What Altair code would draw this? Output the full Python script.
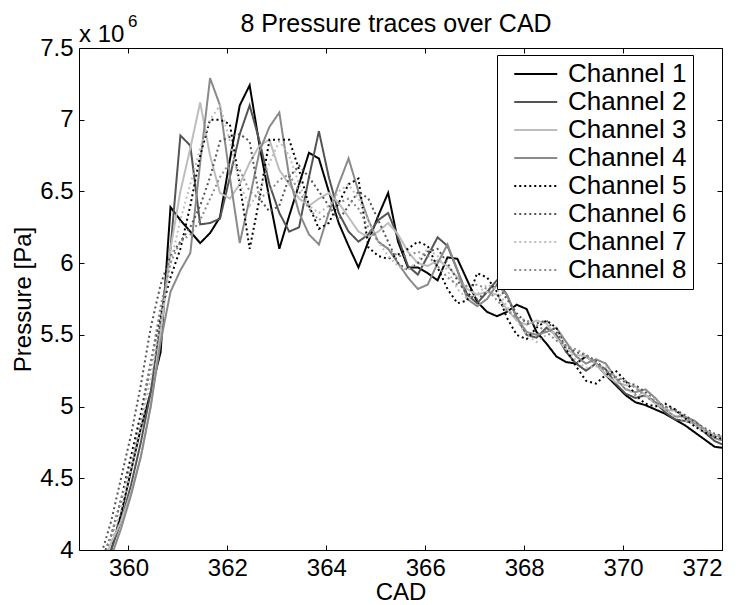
import altair as alt
import pandas as pd

cad = [359.25, 359.45, 359.65, 359.85, 360.05, 360.25, 360.45, 360.65, 360.85, 361.05,
       361.25, 361.45, 361.65, 361.85, 362.05, 362.25, 362.45, 362.65, 362.85, 363.05,
       363.25, 363.45, 363.65, 363.85, 364.05, 364.25, 364.45, 364.65, 364.85, 365.05,
       365.25, 365.45, 365.65, 365.85, 366.05, 366.25, 366.45, 366.65, 366.85, 367.05,
       367.25, 367.45, 367.65, 367.85, 368.05, 368.25, 368.45, 368.65, 368.85, 369.05,
       369.25, 369.45, 369.65, 369.85, 370.05, 370.25, 370.45, 370.65, 370.85, 371.05,
       371.25, 371.45, 371.65, 371.85, 372.05]

# pressure in units of 1e6 Pa
ch1 = [3.55, 3.80, 4.00, 4.25, 4.55, 4.85, 5.10, 5.38, 6.39, 6.30,
       6.22, 6.14, 6.21, 6.32, 6.72, 7.10, 7.24, 6.82, 6.45, 6.10,
       6.33, 6.55, 6.77, 6.73, 6.50, 6.28, 6.12, 5.97, 6.15, 6.33,
       6.49, 6.15, 5.97, 5.97, 5.93, 5.88, 6.04, 6.03, 5.88, 5.73,
       5.66, 5.63, 5.66, 5.71, 5.68, 5.52, 5.44, 5.35, 5.31, 5.30,
       5.35, 5.30, 5.22, 5.15, 5.08, 5.03, 5.01, 4.98, 4.95, 4.91,
       4.87, 4.82, 4.77, 4.72, 4.71]
ch2 = [3.60, 3.82, 4.00, 4.20, 4.45, 4.75, 5.10, 5.60, 6.10, 6.89,
       6.82, 6.27, 6.28, 6.31, 6.60, 6.90, 7.10, 6.85, 6.55, 6.35,
       6.22, 6.25, 6.60, 6.92, 6.60, 6.35, 6.22, 6.15, 6.20, 6.30,
       6.35, 6.18, 5.98, 5.92, 6.05, 6.18, 6.12, 5.95, 5.78, 5.72,
       5.80, 5.88, 5.78, 5.62, 5.50, 5.48, 5.55, 5.50, 5.38, 5.30,
       5.25, 5.30, 5.26, 5.16, 5.09, 5.06, 5.08, 5.03, 4.96, 4.91,
       4.90, 4.88, 4.82, 4.76, 4.73]
ch3 = [3.65, 3.88, 4.05, 4.20, 4.40, 4.65, 5.00, 5.50, 6.10, 6.50,
       6.80, 7.12, 6.75, 6.49, 6.45, 6.55, 6.70, 6.82, 6.86, 6.65,
       6.55, 6.45, 6.40, 6.45, 6.49, 6.42, 6.32, 6.22, 6.18, 6.22,
       6.28, 6.20, 6.08, 6.00, 5.98, 6.02, 5.98, 5.90, 5.82, 5.78,
       5.80, 5.78, 5.68, 5.60, 5.57, 5.60, 5.58, 5.48, 5.40, 5.36,
       5.35, 5.30, 5.22, 5.17, 5.15, 5.14, 5.08, 5.02, 4.98, 4.97,
       4.93, 4.87, 4.83, 4.80, 4.79]
ch4 = [3.60, 3.80, 3.95, 4.15, 4.38, 4.65, 5.00, 5.45, 5.80, 5.95,
       6.07, 6.70, 7.29, 7.10, 6.60, 6.14, 6.45, 6.78, 6.95, 7.05,
       6.60, 6.35, 6.20, 6.13, 6.35, 6.55, 6.73, 6.50, 6.30, 6.15,
       6.10, 6.00, 5.90, 5.82, 5.85, 6.00, 6.13, 5.95, 5.75, 5.70,
       5.75, 5.85, 5.78, 5.62, 5.52, 5.50, 5.52, 5.55, 5.45, 5.35,
       5.30, 5.33, 5.30, 5.20, 5.12, 5.10, 5.12, 5.06, 4.98, 4.93,
       4.93, 4.90, 4.84, 4.78, 4.76]
ch5 = [3.70, 3.92, 4.10, 4.35, 4.65, 4.95, 5.30, 5.65, 5.90, 6.10,
       6.40, 6.75, 7.00, 7.00, 6.97, 6.55, 6.10, 6.45, 6.86, 6.86,
       6.86, 6.65, 6.40, 6.24, 6.28, 6.42, 6.55, 6.59, 6.11, 6.05,
       6.03, 6.06, 6.10, 6.15, 6.12, 5.97, 5.82, 5.72, 5.74, 5.93,
       5.90, 5.80, 5.62, 5.50, 5.47, 5.55, 5.60, 5.55, 5.40, 5.28,
       5.18, 5.16, 5.22, 5.25, 5.18, 5.08, 5.02, 5.00, 5.02, 4.98,
       4.92, 4.86, 4.82, 4.79, 4.77]
ch6 = [3.75, 3.97, 4.20, 4.50, 4.80, 5.15, 5.55, 5.85, 6.05, 6.15,
       6.25, 6.40, 6.60, 6.85, 6.88, 6.90, 6.85, 6.45, 6.36, 6.40,
       6.60, 6.68, 6.60, 6.50, 6.40, 6.30, 6.40, 6.50, 6.45, 6.30,
       6.15, 6.00, 5.95, 6.00, 6.08, 6.10, 6.00, 5.88, 5.78, 5.75,
       5.80, 5.85, 5.75, 5.65, 5.58, 5.58, 5.60, 5.52, 5.42, 5.38,
       5.36, 5.32, 5.25, 5.20, 5.17, 5.15, 5.10, 5.04, 5.00, 4.98,
       4.94, 4.89, 4.85, 4.81, 4.79]
ch7 = [3.60, 3.85, 4.05, 4.28, 4.55, 4.85, 5.20, 5.60, 6.00, 6.30,
       6.55, 6.80, 7.00, 7.10, 6.85, 6.55, 6.40, 6.50, 6.70, 6.85,
       6.75, 6.55, 6.40, 6.35, 6.40, 6.50, 6.55, 6.45, 6.30, 6.15,
       6.05, 5.98, 5.95, 6.02, 6.10, 6.05, 5.95, 5.82, 5.75, 5.78,
       5.85, 5.82, 5.70, 5.60, 5.50, 5.45, 5.50, 5.52, 5.42, 5.32,
       5.27, 5.28, 5.28, 5.20, 5.13, 5.08, 5.08, 5.05, 4.98, 4.93,
       4.90, 4.88, 4.84, 4.80, 4.78]
ch8 = [3.70, 3.90, 4.10, 4.35, 4.60, 4.90, 5.30, 5.70, 6.00, 6.15,
       6.20, 6.30, 6.45, 6.60, 6.70, 6.65, 6.50, 6.45, 6.50, 6.58,
       6.62, 6.50, 6.38, 6.30, 6.35, 6.42, 6.45, 6.38, 6.25, 6.15,
       6.10, 6.05, 6.05, 6.08, 6.05, 5.98, 5.90, 5.85, 5.84, 5.85,
       5.82, 5.74, 5.67, 5.62, 5.60, 5.57, 5.52, 5.46, 5.42, 5.40,
       5.36, 5.30, 5.25, 5.21, 5.18, 5.13, 5.07, 5.03, 5.00, 4.97,
       4.92, 4.88, 4.84, 4.80, 4.78]

names = ["Channel 1", "Channel 2", "Channel 3", "Channel 4",
         "Channel 5", "Channel 6", "Channel 7", "Channel 8"]
colors = ["#000000", "#545454", "#bdbdbd", "#8a8a8a",
          "#000000", "#545454", "#bdbdbd", "#8a8a8a"]
dashes = [[1, 0], [1, 0], [1, 0], [1, 0], [2, 3], [2, 3], [2, 3], [2, 3]]

series = [ch1, ch2, ch3, ch4, ch5, ch6, ch7, ch8]
rows = []
for n, s in zip(names, series):
    for c, v in zip(cad, s):
        rows.append({"channel": n, "cad": c, "p": v})
df = pd.DataFrame(rows)

xticks = [360, 362, 364, 366, 368, 370, 372]
yticks = [4, 4.5, 5, 5.5, 6, 6.5, 7, 7.5]
FONT = "Liberation Sans"

xscale = alt.Scale(domain=[359, 372], nice=False, zero=False)
yscale = alt.Scale(domain=[4, 7.5], nice=False, zero=False)

leg = alt.Legend(labelExpr="datum.label + '   '")

lines = alt.Chart(df).mark_line(clip=True, strokeWidth=2).encode(
    x=alt.X("cad:Q", scale=xscale, title="CAD",
            axis=alt.Axis(values=xticks, ticks=False, domain=False, grid=False,
                          labelPadding=6, titlePadding=0, format="d")),
    y=alt.Y("p:Q", scale=yscale, title="Pressure [Pa]",
            axis=alt.Axis(values=yticks, ticks=False, domain=False, grid=False,
                          labelPadding=6, titlePadding=4, format="~g")),
    color=alt.Color("channel:N", scale=alt.Scale(domain=names, range=colors),
                    title=None, sort=names, legend=leg),
    strokeDash=alt.StrokeDash("channel:N", scale=alt.Scale(domain=names, range=dashes),
                              title=None, sort=names, legend=leg),
    order=alt.Order("cad:Q"),
)

ticks_in1 = alt.Chart(df).mark_line(opacity=0, clip=True).encode(
    x=alt.X("cad:Q", scale=xscale, title=None,
            axis=alt.Axis(orient="bottom", values=xticks, offset=-5, tickSize=5,
                          labels=False, domain=False, grid=False, tickColor="#000")),
    y=alt.Y("p:Q", scale=yscale, title=None,
            axis=alt.Axis(orient="left", values=yticks, offset=-5, tickSize=5,
                          labels=False, domain=False, grid=False, tickColor="#000")),
    detail="channel:N",
)
ticks_in2 = alt.Chart(df).mark_line(opacity=0, clip=True).encode(
    x=alt.X("cad:Q", scale=xscale, title=None,
            axis=alt.Axis(orient="top", values=xticks, offset=-5, tickSize=5,
                          labels=False, domain=False, grid=False, tickColor="#000")),
    y=alt.Y("p:Q", scale=yscale, title=None,
            axis=alt.Axis(orient="right", values=yticks, offset=-5, tickSize=5,
                          labels=False, domain=False, grid=False, tickColor="#000")),
    detail="channel:N",
)

title_df = pd.DataFrame({"t": ["8 Pressure traces over CAD"]})
title_txt = alt.Chart(title_df).mark_text(align="center", baseline="alphabetic",
                                          fontSize=25, font=FONT, color="#000").encode(
    x=alt.value(317), y=alt.value(-16), text="t:N")

ann = pd.DataFrame({"t": ["x 10"]})
exp_txt = alt.Chart(ann).mark_text(align="left", baseline="alphabetic", fontSize=24,
                                   font=FONT, color="#000").encode(
    x=alt.value(0), y=alt.value(-6), text="t:N")
ann2 = pd.DataFrame({"t": ["6"]})
exp_sup = alt.Chart(ann2).mark_text(align="left", baseline="alphabetic", fontSize=17,
                                    font=FONT, color="#000").encode(
    x=alt.value(49), y=alt.value(-21), text="t:N")

chart = alt.layer(lines, ticks_in1, ticks_in2, title_txt, exp_txt, exp_sup).resolve_axis(
    x="independent", y="independent"
).properties(
    width=643, height=502,
    autosize=alt.AutoSizeParams(type="none"),
    padding={"left": 79, "top": 48, "right": 14, "bottom": 55},
).configure_view(
    stroke="#000", strokeWidth=1
).configure_axis(
    labelFont=FONT, labelFontSize=24, labelColor="#000",
    titleFont=FONT, titleFontSize=24, titleFontWeight="normal", titleColor="#000",
).configure_legend(
    orient="none", legendX=418, legendY=7,
    strokeColor="#000", fillColor="#fff", padding=6,
    labelFont=FONT, labelFontSize=26, labelColor="#000",
    symbolType="M-0.163,0H3.837", symbolSize=462, symbolStrokeWidth=2,
    labelOffset=39, rowPadding=2, labelLimit=300,
)

chart.save("out.html", embed_options={"renderer": "svg", "actions": False})
